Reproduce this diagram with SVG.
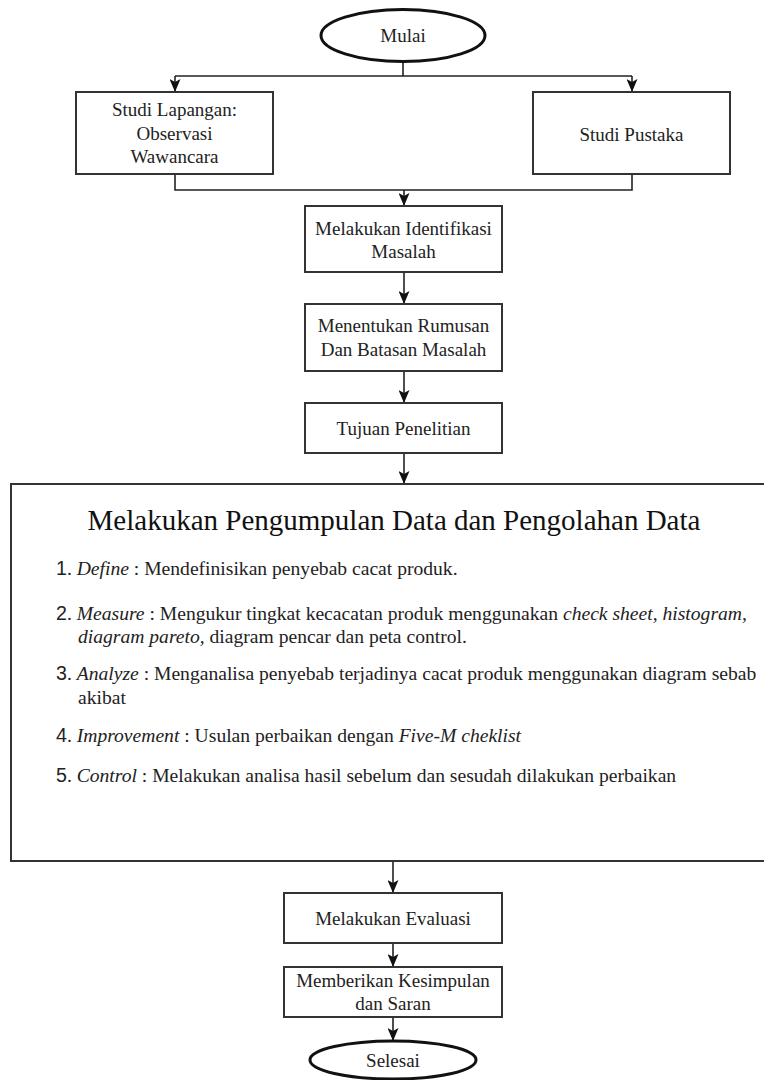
<svg xmlns="http://www.w3.org/2000/svg" width="764" height="1080" viewBox="0 0 764 1080">
<defs>
<marker id="arr" markerWidth="13" markerHeight="11" refX="13" refY="5.5" orient="auto" markerUnits="userSpaceOnUse" viewBox="0 0 13 11">
<path d="M0,0 L13,5.5 L0,11 L3,5.5 Z" fill="#111"/>
</marker>
<style>
.box{fill:#fff;stroke:#333;stroke-width:2}
.term{fill:#fff;stroke:#111;stroke-width:3}
.t{font-family:"Liberation Serif","Times New Roman",serif;font-size:19px;fill:#222;text-anchor:middle}
.title{font-family:"Liberation Serif","Times New Roman",serif;font-size:29px;fill:#111;text-anchor:middle}
.it{font-family:"Liberation Serif","Times New Roman",serif;font-size:19.6px;fill:#222}
.num{font-family:"Liberation Sans",Arial,sans-serif}
.i{font-style:italic}
.ln{fill:none;stroke:#222;stroke-width:1.6}
.la{fill:none;stroke:#222;stroke-width:1.6;marker-end:url(#arr)}
</style>
</defs>
<rect width="764" height="1080" fill="#fff"/>
<g id="connectors">
<path class="ln" d="M403,62 V76 M175,76 H632"/>
<path class="la" d="M175,76 V92"/>
<path class="la" d="M632,76 V92"/>
<path class="ln" d="M175,174 V190 H632 V174"/>
<path class="la" d="M404,190 V206"/>
<path class="la" d="M404,272 V304"/>
<path class="la" d="M404,371 V403"/>
<path class="la" d="M404,453 V484"/>
<path class="la" d="M393,861 V893"/>
<path class="la" d="M393,943 V967"/>
<path class="la" d="M393,1017 V1041"/>
</g>
<g id="mulai">
<ellipse class="term" cx="403" cy="35.5" rx="82" ry="26"/>
<text class="t" x="403" y="42">Mulai</text>
</g>
<g id="studi-lapangan">
<rect class="box" x="76" y="92" width="197" height="82"/>
<text class="t" x="174.5" y="116">Studi Lapangan:</text>
<text class="t" x="174.5" y="140">Observasi</text>
<text class="t" x="174.5" y="163">Wawancara</text>
</g>
<g id="studi-pustaka">
<rect class="box" x="533" y="92" width="197" height="82"/>
<text class="t" x="631.5" y="141">Studi Pustaka</text>
</g>
<g id="identifikasi">
<rect class="box" x="305" y="206" width="197" height="66"/>
<text class="t" x="403.5" y="235">Melakukan Identifikasi</text>
<text class="t" x="403.5" y="258">Masalah</text>
</g>
<g id="rumusan">
<rect class="box" x="305" y="304" width="197" height="67"/>
<text class="t" x="403.5" y="332">Menentukan Rumusan</text>
<text class="t" x="403.5" y="356">Dan Batasan Masalah</text>
</g>
<g id="tujuan">
<rect class="box" x="305" y="403" width="197" height="50"/>
<text class="t" x="403.5" y="435">Tujuan Penelitian</text>
</g>
<g id="pengumpulan">
<rect class="box" x="11" y="484" width="770" height="377"/>
<text class="title" x="394" y="530">Melakukan Pengumpulan Data dan Pengolahan Data</text>
<text class="it" x="56" y="575"><tspan class="num">1</tspan>. <tspan class="i">Define</tspan> : Mendefinisikan penyebab cacat produk.</text>
<text class="it" x="56" y="620"><tspan class="num">2</tspan>. <tspan class="i">Measure</tspan> : Mengukur tingkat kecacatan produk menggunakan <tspan class="i">check sheet, histogram,</tspan></text>
<text class="it" x="78" y="643"><tspan class="i">diagram pareto,</tspan> diagram pencar dan peta control.</text>
<text class="it" x="56" y="680"><tspan class="num">3</tspan>. <tspan class="i">Analyze</tspan> : Menganalisa penyebab terjadinya cacat produk menggunakan diagram sebab</text>
<text class="it" x="78" y="704">akibat</text>
<text class="it" x="56" y="742"><tspan class="num">4</tspan>. <tspan class="i">Improvement</tspan> : Usulan perbaikan dengan <tspan class="i">Five-M cheklist</tspan></text>
<text class="it" x="56" y="782"><tspan class="num">5</tspan>. <tspan class="i">Control</tspan> : Melakukan analisa hasil sebelum dan sesudah dilakukan perbaikan</text>
</g>
<g id="evaluasi">
<rect class="box" x="284" y="893" width="218" height="50"/>
<text class="t" x="393" y="925">Melakukan Evaluasi</text>
</g>
<g id="kesimpulan">
<rect class="box" x="284" y="967" width="218" height="50"/>
<text class="t" x="393" y="987">Memberikan Kesimpulan</text>
<text class="t" x="393" y="1010">dan Saran</text>
</g>
<g id="selesai">
<ellipse class="term" cx="393" cy="1060" rx="83" ry="19"/>
<text class="t" x="393" y="1067">Selesai</text>
</g>
</svg>
